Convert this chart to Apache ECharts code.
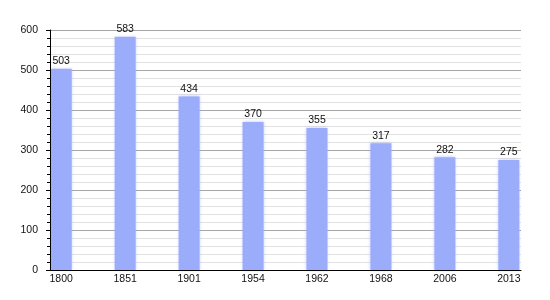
<!DOCTYPE html>
<html>
<head>
<meta charset="utf-8">
<script src="https://cdn.jsdelivr.net/npm/echarts@6/dist/echarts.min.js"></script>
<style>html,body{margin:0;padding:0;background:#fff}#c{width:550px;height:300px}</style>
</head>
<body>
<div id="c"></div>
<script>
var categories = ['1800','1851','1901','1954','1962','1968','2006','2013'];
var population = [503, 583, 434, 370, 355, 317, 282, 275];
var yTicks = [0, 100, 200, 300, 400, 500, 600];

var chart = echarts.init(document.getElementById('c'), null, {renderer: 'canvas'});
var font = 'Liberation Sans, Arial, sans-serif';
var yBase = {
  type: 'value',
  min: yTicks[0],
  max: yTicks[yTicks.length - 1],
  interval: 100
};
chart.setOption({
  animation: false,
  grid: {left: 50, right: 29, top: 30, bottom: 30},
  xAxis: {
    type: 'value',
    min: -0.175,
    max: 7.19,
    z: 10,
    splitLine: {show: false},
    axisLine: {show: true, onZero: false, lineStyle: {color: '#000', width: 1}},
    axisTick: {show: false},
    axisLabel: {
      customValues: categories.map(function (c, i) { return i; }),
      formatter: function (v) { return categories[Math.round(v)]; },
      color: '#111', fontFamily: font, fontSize: 10.5, margin: 4
    }
  },
  yAxis: [
    Object.assign({}, yBase, {
      z: 0,
      axisLine: {show: false},
      axisTick: {show: false},
      axisLabel: {show: false},
      minorTick: {show: false, splitNumber: 5},
      splitLine: {show: true, lineStyle: {color: '#a6a6a6', width: 1}},
      minorSplitLine: {show: true, lineStyle: {color: '#e2e2e2', width: 1}}
    }),
    Object.assign({}, yBase, {
      z: 10,
      position: 'left',
      axisLine: {show: true, lineStyle: {color: '#000', width: 1}},
      axisTick: {show: true, length: 4, lineStyle: {color: '#000'}},
      minorTick: {show: true, splitNumber: 5, length: 3, lineStyle: {color: '#000'}},
      splitLine: {show: false},
      minorSplitLine: {show: false},
      axisLabel: {color: '#111', fontFamily: font, fontSize: 10.5, margin: 12}
    })
  ],
  series: [{
    type: 'bar',
    barWidth: 21,
    yAxisIndex: 0,
    data: population.map(function (v, i) { return [i, v]; }),
    itemStyle: {color: '#9aacfa', shadowBlur: 3, shadowColor: 'rgba(154,172,250,0.7)'},
    label: {
      show: true, position: 'top', distance: 2,
      formatter: function (p) { return p.value[1]; },
      color: '#111', fontFamily: font, fontSize: 10.5
    }
  }]
});
</script>
</body>
</html>
